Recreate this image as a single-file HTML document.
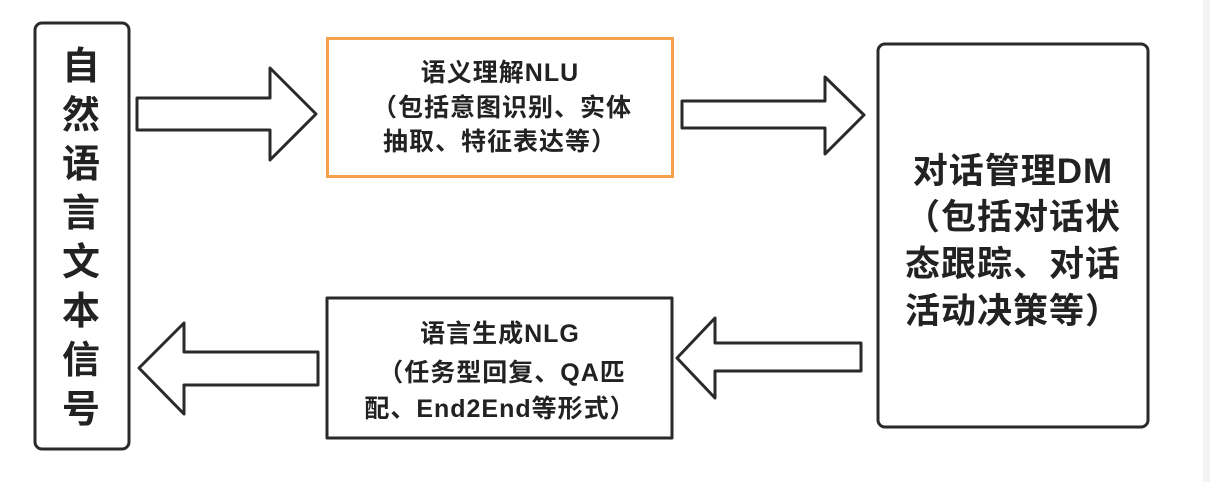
<!DOCTYPE html>
<html><head><meta charset="utf-8"><style>
html,body{margin:0;padding:0;background:#fff;}
svg{display:block}
text{font-family:"Liberation Sans","Noto Sans CJK SC",sans-serif;font-weight:bold;fill:#222;text-anchor:middle;}
.p{font-family:"Noto Sans CJK SC",sans-serif;}
</style></head><body>
<svg width="1210" height="482" viewBox="0 0 1210 482" xmlns="http://www.w3.org/2000/svg">
<rect x="0" y="0" width="1210" height="482" fill="#fff"/>
<rect x="1203" y="0" width="7" height="482" fill="#f3f3f5"/>
<g fill="#fff" stroke="#2a2a2a" stroke-width="3" stroke-linejoin="round">
<rect x="35" y="23" width="94" height="426" rx="7"/>
<polygon points="137,98 270,98 270,68 316,114 270,160 270,130 137,130"/>
<polygon points="682,101 825,101 825,77 864,115 825,154 825,128 682,128"/>
<rect x="878" y="44" width="270" height="383" rx="7"/>
<polygon points="861,343 715,343 715,318 677,358 715,398 715,371 861,371"/>
<rect x="327" y="298" width="345" height="140"/>
<polygon points="318,352 184,352 184,323 139,368 184,414 184,385 318,385"/>
</g>
<rect x="327.5" y="38.5" width="345" height="138" fill="#fff" stroke="#f5a04a" stroke-width="3"/>
<g font-size="38">
<text x="81" y="79">自</text>
<text x="81" y="128">然</text>
<text x="81" y="177">语</text>
<text x="81" y="226">言</text>
<text x="81" y="275">文</text>
<text x="81" y="324">本</text>
<text x="81" y="373">信</text>
<text x="81" y="422">号</text>
</g>
<g font-size="25" letter-spacing="1">
<text x="500" y="81">语义理解NLU</text>
<text x="502" y="116"><tspan class="p">（</tspan>包括意图识别、实体</text>
<text x="500" y="150">抽取、特征表达等<tspan class="p">）</tspan></text>
<text x="500" y="342">语言生成NLG</text>
<text x="502" y="381"><tspan class="p">（</tspan>任务型回复、QA匹</text>
<text x="500" y="417">配、End2End等形式<tspan class="p">）</tspan></text>
</g>
<g font-size="35" letter-spacing="1">
<text x="1013" y="183">对话管理DM</text>
<text x="1013" y="229"><tspan class="p">（</tspan>包括对话状</text>
<text x="1013" y="276">态跟踪、对话</text>
<text x="1013" y="323">活动决策等<tspan class="p">）</tspan></text>
</g>
</svg>
</body></html>
